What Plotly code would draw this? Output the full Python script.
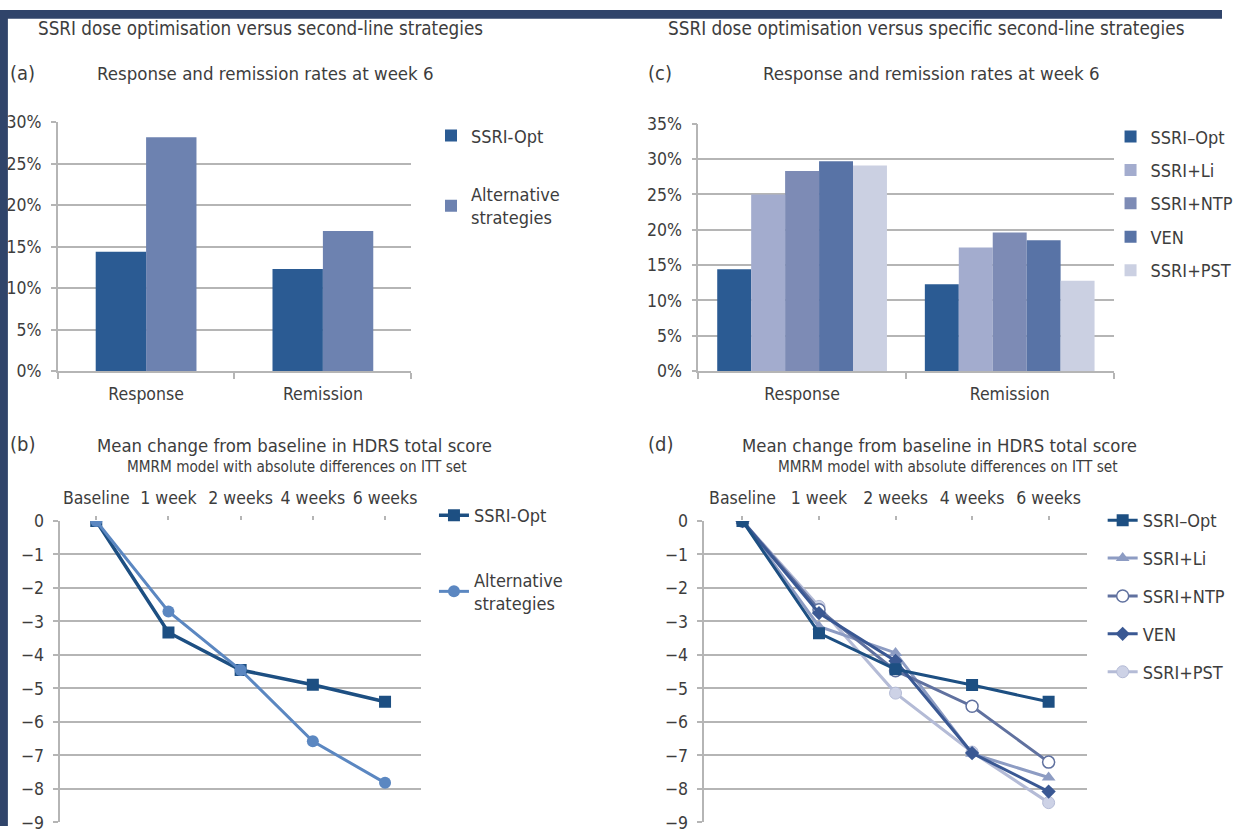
import plotly.graph_objects as go

# ---------------- data ----------------
bar_categories = ["Response", "Remission"]

# (a) SSRI dose optimisation vs pooled alternative strategies (%)
a_ssri_opt = [14.4, 12.3]
a_alternative = [28.2, 16.9]

# (c) SSRI dose optimisation vs specific second-line strategies (%)
c_ssri_opt = [14.4, 12.3]
c_ssri_li = [25.0, 17.5]
c_ssri_ntp = [28.3, 19.6]
c_ven = [29.7, 18.5]
c_ssri_pst = [29.1, 12.8]

time_points = ["Baseline", "1 week", "2 weeks", "4 weeks", "6 weeks"]

# (b) mean change from baseline in HDRS total score
b_ssri_opt = [0, -3.33, -4.45, -4.89, -5.40]
b_alternative = [0, -2.70, -4.45, -6.58, -7.82]

# (d) mean change from baseline in HDRS total score, by strategy
d_ssri_opt = [0, -3.35, -4.43, -4.90, -5.40]
d_ssri_li = [0, -3.15, -3.94, -6.95, -7.66]
d_ssri_ntp = [0, -2.65, -4.47, -5.53, -7.20]
d_ven = [0, -2.75, -4.18, -6.93, -8.08]
d_ssri_pst = [0, -2.55, -5.14, -6.90, -8.41]

pct_ticks_a = [0, 5, 10, 15, 20, 25, 30]
pct_ticks_c = [0, 5, 10, 15, 20, 25, 30, 35]
score_ticks = [0, -1, -2, -3, -4, -5, -6, -7, -8, -9]

# ---------------- styling ----------------
W, H = 1239, 836
FONT = "DejaVu Sans Condensed, Liberation Sans Narrow, sans-serif"
TXT = "#3d3d3d"
GRID = "#b5b5b5"
NAVY = "#30446a"

COL_OPT = "#2b5b93"
COL_ALT = "#6d82b0"
COL_LI = "#a3acce"
COL_NTP = "#7d8bb5"
COL_VEN = "#5873a6"
COL_PST = "#cbd0e2"

LINE_OPT = "#1d4f82"
LINE_ALT = "#5b87c1"
LINE_LI = "#8d9cc3"
LINE_NTP = "#60719f"
LINE_VEN = "#3a5893"
LINE_PST = "#b4bbd6"


def px_x(p):
    return p / W


def px_y(p):
    return (H - p) / H


fig = go.Figure()

# ---- (a) bars ----
bar_w_a = 0.285
for i, (name, vals, col) in enumerate([
    ("SSRI-Opt", a_ssri_opt, COL_OPT),
    ("Alternative<br>strategies", a_alternative, COL_ALT),
]):
    fig.add_trace(go.Bar(
        x=bar_categories, y=vals, name=name, marker_color=col,
        marker_line_width=0, width=bar_w_a, offset=-bar_w_a + i * bar_w_a,
        xaxis="x", yaxis="y", legend="legend", legendgroup=f"a{i}",
    ))

# ---- (c) bars ----
bar_w_c = 0.1635
c_series = [
    ("SSRI\u2013Opt", c_ssri_opt, COL_OPT),
    ("SSRI+Li", c_ssri_li, COL_LI),
    ("SSRI+NTP", c_ssri_ntp, COL_NTP),
    ("VEN", c_ven, COL_VEN),
    ("SSRI+PST", c_ssri_pst, COL_PST),
]
for i, (name, vals, col) in enumerate(c_series):
    fig.add_trace(go.Bar(
        x=bar_categories, y=vals, name=name, marker_color=col,
        marker_line_width=0, width=bar_w_c, offset=-2.5 * bar_w_c + i * bar_w_c,
        xaxis="x3", yaxis="y3", legend="legend3", legendgroup=f"c{i}",
    ))

# ---- (b) lines ----
fig.add_trace(go.Scatter(
    x=time_points, y=b_ssri_opt, name="SSRI-Opt", mode="lines+markers",
    line=dict(color=LINE_OPT, width=3.5),
    marker=dict(symbol="square", size=12, color=LINE_OPT),
    xaxis="x2", yaxis="y2", legend="legend2", legendgroup="b0",
))
fig.add_trace(go.Scatter(
    x=time_points, y=b_alternative, name="Alternative<br>strategies",
    mode="lines+markers", line=dict(color=LINE_ALT, width=3),
    marker=dict(symbol="circle", size=12, color=LINE_ALT),
    xaxis="x2", yaxis="y2", legend="legend2", legendgroup="b1",
))

# ---- (d) lines ----
d_series = [
    ("SSRI\u2013Opt", d_ssri_opt, LINE_OPT, dict(symbol="square", size=12, color=LINE_OPT)),
    ("SSRI+Li", d_ssri_li, LINE_LI, dict(symbol="triangle-up", size=12, color=LINE_LI)),
    ("SSRI+NTP", d_ssri_ntp, LINE_NTP, dict(symbol="circle", size=12, color="white",
                                            line=dict(color=LINE_NTP, width=1.5))),
    ("VEN", d_ven, LINE_VEN, dict(symbol="diamond", size=11, color=LINE_VEN)),
    ("SSRI+PST", d_ssri_pst, LINE_PST, dict(symbol="circle", size=12, color="#cdd2e6",
                                            line=dict(color=LINE_PST, width=1))),
]
# draw lightest series first so the darker lines sit on top, keep legend order
order = [4, 1, 2, 3, 0]
for i in order:
    name, vals, col, mk = d_series[i]
    fig.add_trace(go.Scatter(
        x=time_points, y=vals, name=name, mode="lines+markers",
        line=dict(color=col, width=3), marker=mk,
        xaxis="x4", yaxis="y4", legend="legend4", legendgroup=f"d{i}",
        legendrank=i + 1,
    ))

# ---------------- axes ----------------
tickfont = dict(family=FONT, size=17.5, color=TXT)

common_y = dict(showgrid=True, gridcolor=GRID, gridwidth=1.5, showline=True,
                linecolor=GRID, linewidth=1.5, ticks="outside", ticklen=5,
                tickcolor=GRID, tickwidth=1.5, zeroline=False, tickfont=tickfont,
                ticklabelstandoff=6, fixedrange=True)

bar_x = dict(type="category", range=[-0.5, 1.5], showline=True, linecolor=GRID,
             linewidth=1.5, ticks="outside", tickson="boundaries", ticklen=6,
             tickcolor=GRID, tickwidth=1.5, showgrid=False, tickfont=tickfont,
             ticklabelstandoff=6, fixedrange=True)

line_x = dict(type="category", range=[-0.5, 4.5], side="top", showline=False,
              ticks="outside", ticklen=4, tickcolor=GRID, tickwidth=1.5,
              showgrid=False, tickfont=tickfont, tickangle=0,
              ticklabelstandoff=5, fixedrange=True)

fig.update_layout(
    width=W, height=H, margin=dict(l=0, r=0, t=0, b=0),
    paper_bgcolor="white", plot_bgcolor="rgba(0,0,0,0)",
    font=dict(family=FONT, color=TXT),
    barmode="overlay",
    xaxis=dict(domain=[px_x(58.5), px_x(417)], anchor="y", **bar_x),
    yaxis=dict(domain=[px_y(370), px_y(115)], anchor="x", range=[0, 30],
               tickvals=pct_ticks_a, ticktext=[f"{v}%" for v in pct_ticks_a],
               **common_y),
    xaxis3=dict(domain=[px_x(708), px_x(1129)], anchor="y3", **bar_x),
    yaxis3=dict(domain=[px_y(370), px_y(116.5)], anchor="x3", range=[0, 35],
                tickvals=pct_ticks_c, ticktext=[f"{v}%" for v in pct_ticks_c],
                **common_y),
    xaxis2=dict(domain=[px_x(61), px_x(427)], anchor="y2", **line_x),
    yaxis2=dict(domain=[px_y(832.3), px_y(523.5)], anchor="x2", range=[-9, 0],
                tickvals=score_ticks, **common_y),
    xaxis4=dict(domain=[px_x(714), px_x(1102)], anchor="y4", **line_x),
    yaxis4=dict(domain=[px_y(832.3), px_y(523.5)], anchor="x4", range=[-9, 0],
                tickvals=score_ticks, **common_y),
)

# ---------------- legends ----------------
leg_font = dict(family=FONT, size=18, color=TXT)
leg_common = dict(xanchor="left", yanchor="top", bgcolor="rgba(0,0,0,0)",
                  borderwidth=0, font=leg_font, traceorder="grouped",
                  itemclick=False, itemdoubleclick=False)
fig.update_layout(
    showlegend=True,
    legend=dict(x=px_x(437), y=px_y(110), tracegroupgap=32, **leg_common),
    legend3=dict(x=px_x(1126), y=px_y(111), tracegroupgap=7, **leg_common),
    legend2=dict(x=px_x(440), y=px_y(499), tracegroupgap=38, **leg_common),
    legend4=dict(x=px_x(1118), y=px_y(504), tracegroupgap=11.5, **leg_common),
)

# ---------------- titles ----------------
def text(x, y, s, size, anchor="center"):
    fig.add_annotation(x=px_x(x), y=px_y(y), xref="paper", yref="paper",
                       text=s, showarrow=False, xanchor=anchor, yanchor="middle",
                       font=dict(family=FONT, size=size, color=TXT))


text(264, 19, "SSRI dose optimisation versus second-line strategies", 18.7)
text(939, 19, "SSRI dose optimisation versus specific second-line strategies", 18.8)
text(8, 65, "(a)", 20, "left")
text(269, 65, "Response and remission rates at week 6", 18.5)
text(655, 65, "(c)", 20, "left")
text(944, 65, "Response and remission rates at week 6", 18.5)
text(8, 445, "(b)", 20, "left")
text(299, 446, "Mean change from baseline in HDRS total score", 18.4)
text(301, 468, "MMRM model with absolute differences on ITT set", 15.2)
text(655, 445, "(d)", 20, "left")
text(953, 446, "Mean change from baseline in HDRS total score", 18.4)
text(961, 468, "MMRM model with absolute differences on ITT set", 15.2)

# ---------------- frame strips ----------------
fig.add_shape(type="rect", xref="paper", yref="paper", x0=0, x1=px_x(8),
              y0=0, y1=1, fillcolor=NAVY, line_width=0, layer="above")
fig.add_shape(type="rect", xref="paper", yref="paper", x0=0, x1=1,
              y0=px_y(9), y1=1, fillcolor=NAVY, line_width=0, layer="above")

fig.write_html(
    "out.html",
    post_script="document.body.style.margin='0';document.body.style.overflow='hidden';",
)
